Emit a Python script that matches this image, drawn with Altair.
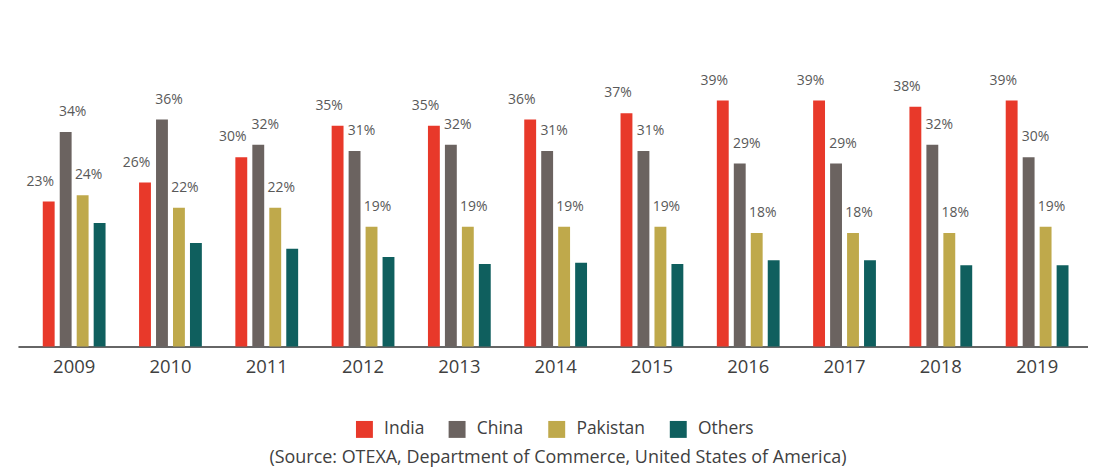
import altair as alt
import pandas as pd

years = ["2009", "2010", "2011", "2012", "2013", "2014", "2015", "2016", "2017", "2018", "2019"]
countries = ["India", "China", "Pakistan", "Others"]
india = [23, 26, 30, 35, 35, 36, 37, 39, 39, 38, 39]
china = [34, 36, 32, 31, 32, 31, 31, 29, 29, 32, 30]
pakistan = [24, 22, 22, 19, 19, 19, 19, 18, 18, 18, 19]
others = [19.6, 16.4, 15.5, 14.2, 13.1, 13.3, 13.1, 13.7, 13.7, 12.9, 12.9]
colors = ["#E8392A", "#6B6360", "#BFA94B", "#0F5F5E"]
source_note = "(Source: OTEXA, Department of Commerce, United States of America)"

rows = []
for i, yr in enumerate(years):
    for c, vals in zip(countries, [india, china, pakistan, others]):
        rows.append({"year": yr, "country": c, "value": vals[i], "label": f"{vals[i]:.0f}%"})
df = pd.DataFrame(rows)

FONT = "Open Sans"

x = alt.X(
    "year:N", sort=years, title=None,
    scale=alt.Scale(paddingInner=0.348, paddingOuter=0.23, align=0.56),
    axis=alt.Axis(labelAngle=0, labelFontSize=18.5, labelColor="#404040", labelPadding=11,
                  ticks=False, domainColor="#333333", domainWidth=1.5, labelFont=FONT),
)
xo = alt.XOffset("country:N", sort=countries,
                 scale=alt.Scale(domain=countries, paddingInner=0.3, paddingOuter=0))
y = alt.Y("value:Q", scale=alt.Scale(domain=[0, 45]), axis=None)

base = alt.Chart(df)

bars = base.mark_bar().encode(
    x=x, xOffset=xo, y=y,
    color=alt.Color(
        "country:N", title=None,
        scale=alt.Scale(domain=countries, range=colors),
        legend=alt.Legend(orient="none", legendX=339, legendY=359, direction="horizontal",
                          symbolType="square", symbolSize=289, symbolStrokeWidth=0,
                          symbolOpacity=1, labelFontSize=17.5, labelColor="#404040",
                          labelFont=FONT, labelOffset=11, columnPadding=24),
    ),
)

texts = []
for c, dx in [("India", -8.5), ("China", 7), ("Pakistan", 6)]:
    texts.append(
        base.transform_filter(alt.datum.country == c)
        .mark_text(dx=dx, dy=-20, baseline="middle", fontSize=14, color="#595959", font=FONT)
        .encode(x=x, xOffset=xo, y=y, text="label:N")
    )

src = alt.Chart(pd.DataFrame({"t": [source_note]})).mark_text(
    fontSize=18, color="#404040", font=FONT, baseline="middle"
).encode(x=alt.value(542), y=alt.value(397), text="t:N")

chart = alt.layer(bars, *texts, src).properties(
    width=1074, height=285,
    padding={"left": 10, "top": 54, "right": 0, "bottom": 125},
    autosize=alt.AutoSizeParams(type="none"),
).configure_view(stroke=None)

chart.save("out.html", embed_options={"renderer": "svg", "actions": False})
